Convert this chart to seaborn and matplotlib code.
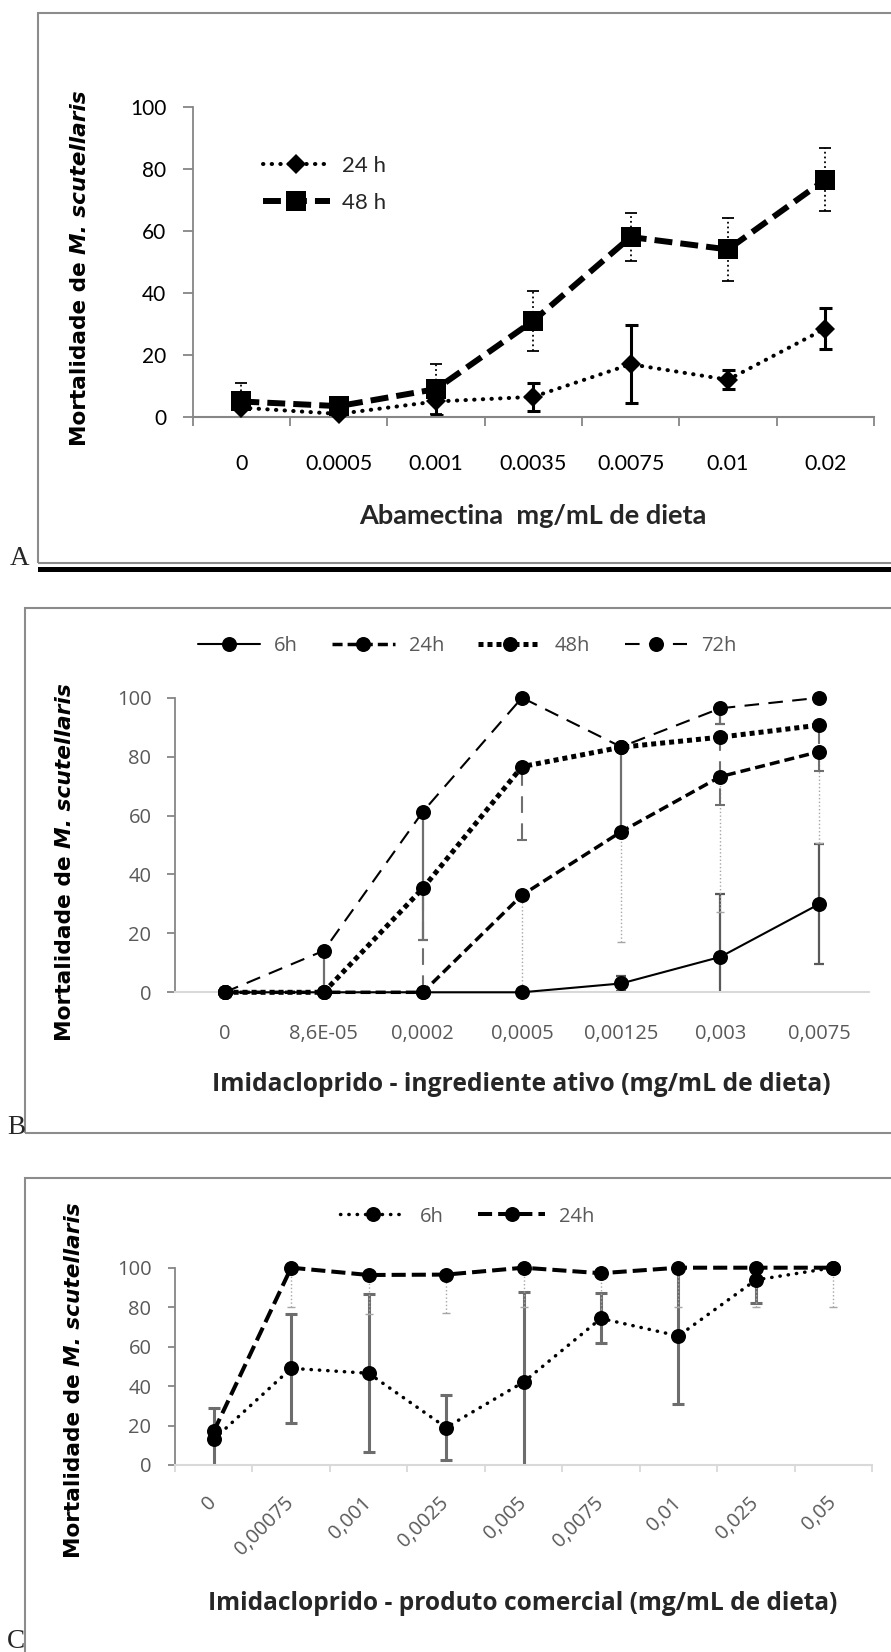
import numpy as np
import matplotlib
matplotlib.use('Agg')
import matplotlib.pyplot as plt
from matplotlib.patches import Rectangle
import seaborn as sns

# ====== Painel A - Abamectina
cats_a = ['0', '0.0005', '0.001', '0.0035', '0.0075', '0.01', '0.02']
a_24h = [3, 1, 5, 6.5, 17, 12, 28.5]
a_24h_err = [3, 0, 4.5, 4.5, 12.5, 3, 6.5]
a_48h = [5, 3.5, 9, 31, 58, 54, 76.5]
a_48h_err = [6, 0, 8, 9.7, 7.6, 10.1, 10.2]

# ====== Painel B - Imidacloprido ingrediente ativo
cats_b = ['0', '8,6E-05', '0,0002', '0,0005', '0,00125', '0,003', '0,0075']
b_6h = [0, 0, 0, 0, 3, 12, 30]
b_6h_err = [0, 0, 0, 0, 2.7, 21.5, 20.5]
b_24h = [0, 0, 0, 33, 54.5, 73.2, 81.7]
b_24h_err = [0, 0, 0, 33, 37.3, 45.8, 31]
b_48h = [0, 0, 35.3, 76.6, 83.2, 86.6, 90.7]
b_48h_err = [0, 0, 35.3, 25, 0, 23, 15.5]
b_72h = [0, 14.1, 61.3, 100, 83.3, 96.4, 100]
b_72h_err = [0, 14.1, 43.6, 0, 28.7, 5.2, 0]

# ====== Painel C - Imidacloprido produto comercial
cats_c = ['0', '0,00075', '0,001', '0,0025', '0,005', '0,0075', '0,01', '0,025', '0,05']
c_6h = [13, 49, 46.5, 19, 42, 74.3, 65.4, 93.8, 100]
c_6h_err = [15.7, 27.5, 40, 16.5, 45.6, 12.7, 34.6, 11.8, 0]
c_24h = [17, 100, 96.3, 96.5, 100, 97.2, 100, 100, 100]
c_24h_err = [0, 20, 20, 19.5, 20, 20, 20, 20, 20]

sns.set_theme(style='white')
plt.rcParams['font.family'] = ['Lato', 'DejaVu Sans']

W, H = 891, 1652
fig = plt.figure(figsize=(W / 100, H / 100), dpi=100)
renderer = fig.canvas.get_renderer()

GRAY = '#868686'
LIGHT = '#d9d9d9'
TXT = '#595959'


def px_axes(x0, x1, y_top, y_bot):
    return fig.add_axes([x0 / W, 1 - y_bot / H, (x1 - x0) / W, (y_bot - y_top) / H])


def ftext(x, y, s, **kw):
    return fig.text(x / W, 1 - y / H, s, **kw)


def fit(t, target):
    w = t.get_window_extent(renderer).width
    t.set_fontsize(t.get_fontsize() * target / w)


def ylab(cx, cy, length):
    kw = dict(rotation=90, rotation_mode='anchor', ha='left', va='center',
              family='DejaVu Sans', fontweight='bold', fontsize=12, color='black')
    t1 = ftext(cx, cy, 'Mortalidade de', **kw)
    t2 = ftext(cx, cy, 'M. scutellaris', fontstyle='italic', **kw)
    h1 = t1.get_window_extent(renderer).height
    h2 = t2.get_window_extent(renderer).height
    gap = 0.32 * 12 * 100 / 72
    k = length / (h1 + h2 + gap)
    t1.set_fontsize(12 * k)
    t2.set_fontsize(12 * k)
    y0 = cy + length / 2
    t1.set_position((cx / W, 1 - y0 / H))
    t2.set_position((cx / W, 1 - (y0 - (h1 + gap) * k) / H))


def ebars(ax, y, err, color, lw, ls, cap_px, so_menos=False):
    x = np.arange(len(y))
    y = np.asarray(y, float)
    err = np.asarray(err, float)
    m = err > 0
    if so_menos:
        yerr = [err[m], np.zeros(m.sum())]
    else:
        yerr = err[m]
    eb = ax.errorbar(x[m], y[m], yerr=yerr, fmt='none', ecolor=color,
                     elinewidth=lw, capsize=cap_px * 0.36, capthick=lw, zorder=2)
    eb[2][0].set_linestyle(ls)
    if so_menos:
        # esconde o cap de cima (comprimento zero)
        eb[1][1].set_visible(False)


def serie(ax, y, label, ls, lw, marker='o', ms=10.8, capstyle='butt'):
    sns.lineplot(x=np.arange(len(y)), y=y, ax=ax, color='black', linestyle=ls,
                 linewidth=lw, marker=marker, markersize=ms, mec='black', mew=0,
                 dash_capstyle=capstyle, clip_on=False, zorder=3, label=label,
                 legend=False)


def estilo_eixos(ax, cats, xcolor, xticks=True):
    ax.set_xlim(-0.5, len(cats) - 0.5)
    ax.set_ylim(0, 100)
    ax.set_yticks(range(0, 101, 20))
    ax.set_xticks(range(len(cats)))
    ax.set_xticklabels(cats)
    if xticks:
        ax.set_xticks(np.arange(len(cats) + 1) - 0.5, minor=True)
    for s in ['top', 'right']:
        ax.spines[s].set_visible(False)
    ax.spines['left'].set_color(GRAY)
    ax.spines['left'].set_linewidth(1.3)
    ax.spines['bottom'].set_color(xcolor)
    ax.spines['bottom'].set_linewidth(1.5)
    ax.set_xlabel('')
    ax.set_ylabel('')
    ax.patch.set_alpha(0)


# ---------------- molduras e letras
fig.add_artist(Rectangle((38.3 / W, 1 - 563.3 / H), 900 / W, 550.3 / H, transform=fig.transFigure,
                         fill=False, ec='#8c8c8c', lw=1.5))
fig.add_artist(Rectangle((38.3 / W, 1 - 571.7 / H), 900 / W, 5 / H, transform=fig.transFigure,
                         fc='black', ec='none'))
fig.add_artist(Rectangle((25 / W, 1 - 1133.3 / H), 900 / W, 525.6 / H, transform=fig.transFigure,
                         fill=False, ec='#8c8c8c', lw=1.5))
fig.add_artist(Rectangle((25 / W, 1 - 1700 / H), 900 / W, 522.3 / H, transform=fig.transFigure,
                         fill=False, ec='#8c8c8c', lw=1.5))
for letra, x, y in [('A', 10, 565), ('B', 7, 1134), ('C', 7, 1648)]:
    ftext(x, y, letra, family='Liberation Serif', fontsize=19.5, va='baseline', ha='left')

# ---------------- Painel A
ax_a = px_axes(192.7, 873.9, 106.7, 417)
ebars(ax_a, a_24h, a_24h_err, 'black', 2.2, '-', 13)
ebars(ax_a, a_48h, a_48h_err, 'black', 1.3, ':', 12)
serie(ax_a, a_24h, '24 h', (0, (0.1, 2.05)), 2.9, marker='D', ms=10.5, capstyle='round')
serie(ax_a, a_48h, '48 h', (0, (3, 1.35)), 4.3, marker='s', ms=14)
estilo_eixos(ax_a, cats_a, GRAY)
ax_a.tick_params(axis='y', which='major', direction='out', length=7, width=1.3, color=GRAY,
                 left=True, pad=12, labelsize=15, labelcolor='black')
ax_a.tick_params(axis='x', which='major', length=0, pad=27, labelsize=15.5, labelcolor='black')
ax_a.tick_params(axis='x', which='minor', direction='out', length=6.5, width=1.3, color=GRAY, bottom=True)
ax_a.legend(loc='center left', bbox_to_anchor=(263 / W, 1 - 184.5 / H), bbox_transform=fig.transFigure,
            frameon=False, prop={'family': 'Lato', 'size': 16}, handlelength=3.0, handletextpad=0.55,
            labelspacing=0.78, borderpad=0, borderaxespad=0)
t = ftext(532.5, 516, 'Abamectina  mg/mL de dieta', family='Lato', fontweight='bold',
          fontsize=15, ha='center', va='center')
fit(t, 349)
ylab(79.5, 268, 355)

# ---------------- Painel B (barras de erro so para baixo, exceto 6h)
ax_b = px_axes(175, 869, 697.7, 992.3)
ebars(ax_b, b_6h, b_6h_err, '#595959', 1.6, '-', 10)
ebars(ax_b, b_24h, b_24h_err, '#a6a6a6', 1.0, ':', 8, so_menos=True)
ebars(ax_b, b_48h, b_48h_err, '#6f6f6f', 1.5, (0, (8, 5)), 10, so_menos=True)
ebars(ax_b, b_72h, b_72h_err, '#6f6f6f', 1.6, '-', 10, so_menos=True)
serie(ax_b, b_6h, '6h', '-', 1.5)
serie(ax_b, b_24h, '24h', (0, (2.9, 1.45)), 2.5)
serie(ax_b, b_48h, '48h', (0, (1, 0.8)), 3.6)
serie(ax_b, b_72h, '72h', (0, (7, 4.5)), 1.5)
estilo_eixos(ax_b, cats_b, LIGHT, xticks=False)
ax_b.tick_params(axis='y', which='major', direction='out', length=6, width=1.3, color=GRAY,
                 left=True, pad=11, labelsize=14.5, labelcolor=TXT, labelfontfamily='Open Sans')
ax_b.tick_params(axis='x', which='major', length=0, pad=23, labelsize=14.5, labelcolor=TXT,
                 labelfontfamily='Open Sans')
ax_b.legend(loc='center', ncol=4, bbox_to_anchor=(467 / W, 1 - 646 / H), bbox_transform=fig.transFigure,
            frameon=False, prop={'family': 'Open Sans', 'size': 14.5}, labelcolor=TXT, handlelength=3.1,
            handletextpad=0.7, columnspacing=1.7, borderpad=0, borderaxespad=0)
t = ftext(521.5, 1084.5, 'Imidacloprido - ingrediente ativo (mg/mL de dieta)', family='Open Sans',
          fontweight='bold', fontsize=15, ha='center', va='center')
fit(t, 617)
ylab(65, 862, 358)

# ---------------- Painel C
ax_c = px_axes(175, 872, 1267.7, 1465)
ebars(ax_c, c_6h, c_6h_err, '#6d6d6d', 2.2, '-', 12)
ebars(ax_c, c_24h, c_24h_err, '#a6a6a6', 1.0, ':', 8, so_menos=True)
serie(ax_c, c_6h, '6h', (0, (0.1, 2.3)), 2.5, capstyle='round')
serie(ax_c, c_24h, '24h', (0, (3.5, 1.5)), 2.9)
estilo_eixos(ax_c, cats_c, LIGHT)
ax_c.tick_params(axis='y', which='major', direction='out', length=5, width=1.3, color=GRAY,
                 left=True, pad=12, labelsize=14.5, labelcolor=TXT, labelfontfamily='Open Sans')
ax_c.tick_params(axis='x', which='major', length=0, pad=25, labelsize=14.5, labelcolor=TXT,
                 labelfontfamily='Open Sans', labelrotation=45)
ax_c.tick_params(axis='x', which='minor', direction='out', length=5, width=1.3, color=LIGHT, bottom=True)
for lab in ax_c.get_xticklabels():
    lab.set_ha('right')
    lab.set_va('center')
    lab.set_rotation_mode('anchor')
ax_c.legend(loc='center', ncol=2, bbox_to_anchor=(467 / W, 1 - 1216.5 / H), bbox_transform=fig.transFigure,
            frameon=False, prop={'family': 'Open Sans', 'size': 14.5}, labelcolor=TXT, handlelength=3.3,
            handletextpad=0.7, columnspacing=1.7, borderpad=0, borderaxespad=0)
t = ftext(522.5, 1603, 'Imidacloprido - produto comercial (mg/mL de dieta)', family='Open Sans',
          fontweight='bold', fontsize=15, ha='center', va='center')
fit(t, 631)
ylab(74, 1380, 355)

fig.savefig('out.png', dpi=100, facecolor='white')
